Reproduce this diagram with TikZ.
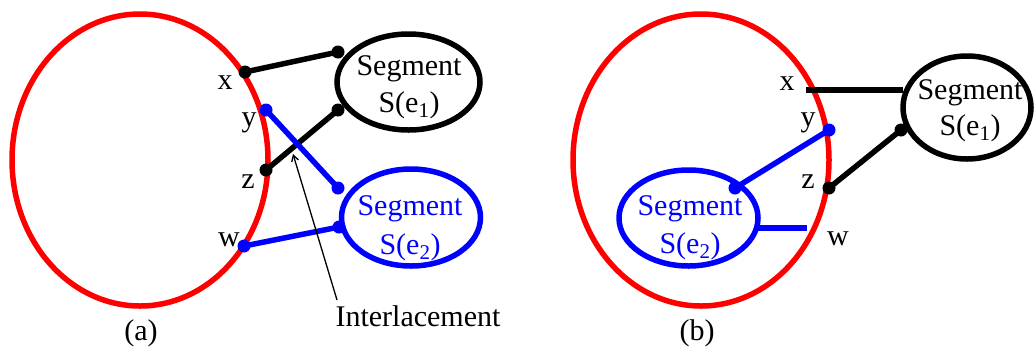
\documentclass[tikz,border=0pt]{standalone}
\usepackage{fontspec}
\setmainfont{Liberation Serif}
\usetikzlibrary{shapes.geometric,arrows.meta}
\tikzset{
  region/.style={draw=red, line width=5.5pt, ellipse, inner sep=0pt},
  segblack/.style={draw=black, line width=5.5pt, ellipse, inner sep=0pt},
  segblue/.style={draw=blue, line width=5.5pt, ellipse, inner sep=0pt},
  segtext/.style={anchor=base, font=\fontsize{30}{36}\selectfont, inner sep=0pt},
  lbl/.style={font=\fontsize{30}{36}\selectfont, inner sep=0pt},
  conb/.style={draw=black, line width=5.5pt},
  conu/.style={draw=blue, line width=5.5pt},
  dotb/.style={fill=black},
  dotu/.style={fill=blue},
}
\begin{document}
\begin{tikzpicture}[x=1pt,y=-1pt]
\useasboundingbox (0,0) rectangle (1035,349);
% ---------- (a) ----------
\node[region, minimum width=256pt, minimum height=292pt] (ra) at (140,160) {};
\node[segblack, minimum width=143pt, minimum height=96pt] (e1a) at (408.5,82) {};
\node[segtext] (t1a) at (409,75) {Segment};
\node[segtext] (u1a) at (409,112) {S(e\textsubscript{1})};
\node[segblue, minimum width=139pt, minimum height=97pt] (e2a) at (411,217.5) {};
\node[segtext, text=blue] (t2a) at (410,215) {Segment};
\node[segtext, text=blue] (u2a) at (410,254) {S(e\textsubscript{2})};
\coordinate (xa) at (245,72);
\coordinate (ya) at (266,110);
\coordinate (za) at (266,170);
\coordinate (wa) at (244,246);
\coordinate (p1a) at (338,52);
\coordinate (p2a) at (338,110);
\coordinate (q1a) at (338,188);
\coordinate (q2a) at (339,227);
\draw[conb] (xa) -- (p1a);
\draw[conb] (za) -- (p2a);
\draw[conu] (ya) -- (q1a);
\draw[conu] (wa) -- (q2a);
\foreach \p in {xa,za,p1a,p2a} \fill[dotb] (\p) circle (6.5pt);
\foreach \p in {ya,wa,q1a,q2a} \fill[dotu] (\p) circle (6.5pt);
\node[lbl] (lxa) at (225,83) {x};
\node[lbl] (lya) at (249,123) {y};
\node[lbl] (lza) at (248,182) {z};
\node[lbl] (lwa) at (229,240) {w};
\node[lbl] (inter) at (418,316) {Interlacement};
\coordinate (cross) at (293,154);
\coordinate (itail) at (337,300);
\draw[line width=1.3pt, -{Straight Barb[length=6pt,width=7pt,line width=1.3pt]}] (itail) -- (cross);
\node[lbl] (capa) at (141,333) {(a)};
% ---------- (b) ----------
\node[region, minimum width=256pt, minimum height=292pt] (rb) at (701,160) {};
\node[segblack, minimum width=128pt, minimum height=103pt] (e1b) at (967,107.5) {};
\node[segtext] (t1b) at (970,99) {Segment};
\node[segtext] (u1b) at (970,135) {S(e\textsubscript{1})};
\node[segblue, minimum width=139pt, minimum height=96pt] (e2b) at (688.5,218) {};
\node[segtext, text=blue] (t2b) at (690,215) {Segment};
\node[segtext, text=blue] (u2b) at (690,253) {S(e\textsubscript{2})};
\coordinate (xb) at (806,90);
\coordinate (xbe) at (903,90);
\coordinate (yb) at (829,130);
\coordinate (zb) at (829,188);
\coordinate (wb) at (807,228);
\coordinate (wbe) at (758,228);
\coordinate (p1b) at (901,130);
\coordinate (q1b) at (735,188);
\draw[conb] (xb) -- (xbe);
\draw[conb] (zb) -- (p1b);
\draw[conu] (yb) -- (q1b);
\draw[conu] (wbe) -- (wb);
\foreach \p in {zb,p1b} \fill[dotb] (\p) circle (6.5pt);
\foreach \p in {yb,q1b} \fill[dotu] (\p) circle (6.5pt);
\node[lbl] (lxb) at (787,84) {x};
\node[lbl] (lyb) at (808,123) {y};
\node[lbl] (lzb) at (808,182) {z};
\node[lbl] (lwb) at (838,239) {w};
\node[lbl] (capb) at (697,333) {(b)};
\end{tikzpicture}
\end{document}
